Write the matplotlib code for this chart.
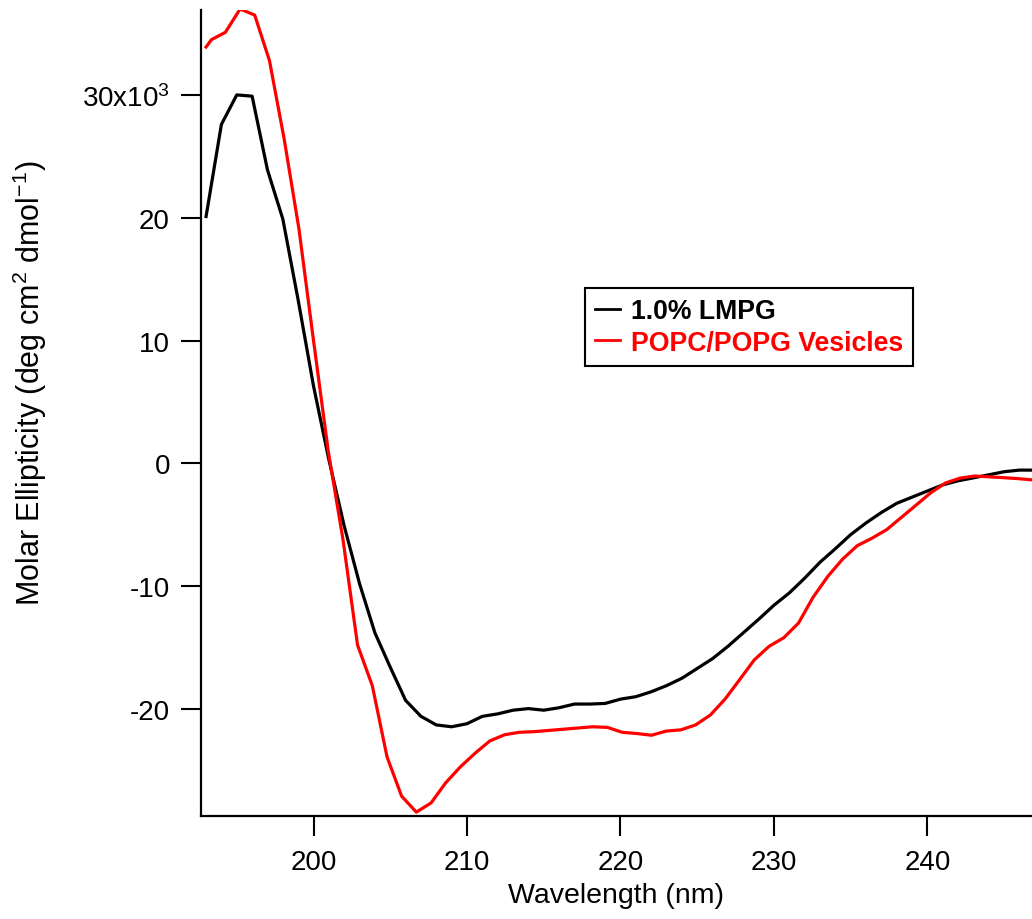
import matplotlib
matplotlib.use("Agg")
import matplotlib.pyplot as plt

# ---- data ----
lmpg_wavelength = [193, 194, 195, 196, 197, 198, 199, 200, 201, 202, 203, 204, 205, 206,
                   207, 208, 209, 210, 211, 212, 213, 214, 215, 216, 217, 218, 219, 220,
                   221, 222, 223, 224, 225, 226, 227, 228, 229, 230, 231, 232, 233, 234,
                   235, 236, 237, 238, 239, 240, 241, 242, 243, 244, 245, 246, 247]
lmpg_ellipticity = [20.1, 27.6, 30.0, 29.9, 23.9, 19.9, 13.3, 6.3, 0.3, -5.1, -9.8, -13.8,
                    -16.6, -19.3, -20.6, -21.3, -21.45, -21.2, -20.6, -20.4, -20.1, -19.97,
                    -20.1, -19.9, -19.6, -19.6, -19.55, -19.2, -19.0, -18.6, -18.1, -17.5,
                    -16.7, -15.9, -14.9, -13.8, -12.7, -11.55, -10.55, -9.35, -8.05, -6.95,
                    -5.8, -4.85, -4.0, -3.25, -2.75, -2.25, -1.75, -1.42, -1.18, -0.93,
                    -0.68, -0.55, -0.55]

vesicle_wavelength = [193.0, 193.35, 194.26, 195.22, 196.17, 197.13, 198.09, 199.05, 200.0,
                      200.96, 201.92, 202.87, 203.83, 204.79, 205.74, 206.7, 207.66, 208.62,
                      209.58, 210.53, 211.49, 212.45, 213.4, 214.36, 215.32, 216.28, 217.23,
                      218.19, 219.15, 220.11, 221.06, 222.02, 222.98, 223.94, 224.89, 225.85,
                      226.81, 227.77, 228.72, 229.68, 230.64, 231.6, 232.55, 233.51, 234.47,
                      235.43, 236.38, 237.34, 238.3, 239.26, 240.21, 241.17, 242.13, 243.09,
                      244.04, 245.0, 245.96, 246.92]
vesicle_ellipticity = [33.9, 34.5, 35.1, 37.0, 36.5, 32.8, 26.4, 19.1, 10.0, 1.0, -6.2, -14.8,
                       -18.1, -23.9, -27.1, -28.4, -27.65, -26.0, -24.7, -23.6, -22.6, -22.1,
                       -21.9, -21.85, -21.75, -21.65, -21.55, -21.45, -21.5, -21.9, -22.0,
                       -22.14, -21.8, -21.7, -21.3, -20.5, -19.2, -17.6, -16.0, -14.9, -14.2,
                       -13.0, -10.9, -9.2, -7.8, -6.7, -6.1, -5.4, -4.4, -3.4, -2.4, -1.6,
                       -1.2, -1.03, -1.1, -1.17, -1.25, -1.36]

series_labels = ["1.0% LMPG", "POPC/POPG Vesicles"]
series_colors = ["black", "red"]

x_ticks = [200, 210, 220, 230, 240]
y_ticks = [-20, -10, 0, 10, 20, 30]
y_tick_labels = ["-20", "-10", "0", "10", "20", r"30x10$^{3}$"]

# ---- style ----
plt.rcParams["font.family"] = ["Liberation Sans", "DejaVu Sans"]
plt.rcParams["mathtext.fontset"] = "custom"
plt.rcParams["mathtext.rm"] = "Liberation Sans"
plt.rcParams["mathtext.it"] = "Liberation Sans:italic"
plt.rcParams["mathtext.bf"] = "Liberation Sans:bold"

fig = plt.figure(figsize=(10.32, 9.2), dpi=100)
ax = fig.add_axes([201 / 1032, (920 - 817.3) / 920, (1032 - 201) / 1032, (817.3 - 10.7) / 920])

ax.plot(lmpg_wavelength, lmpg_ellipticity, color=series_colors[0], lw=2.3, label=series_labels[0])
ax.plot(vesicle_wavelength, vesicle_ellipticity, color=series_colors[1], lw=2.3, label=series_labels[1])

ax.set_xlim(192.67, 246.81)
ax.set_ylim(-28.74, 36.94)

ax.set_xticks(x_ticks)
ax.set_yticks(y_ticks)
ax.set_yticklabels(y_tick_labels)
ax.tick_params(axis="both", direction="out", length=14.4, width=1.5, labelsize=20, color="black")
ax.tick_params(axis="x", pad=9)
ax.tick_params(axis="y", pad=8)

for side in ("top", "right"):
    ax.spines[side].set_visible(False)
for side in ("left", "bottom"):
    ax.spines[side].set_linewidth(1.6)

ax.set_xlabel("Wavelength (nm)", fontsize=20.5, labelpad=5)
ax.set_ylabel(r"Molar Ellipticity (deg cm$^{2}$ dmol$^{-1}$)", fontsize=22)
ax.yaxis.set_label_coords(-0.183, 0.538)

leg = ax.legend(loc="upper left", bbox_to_anchor=(0.462, 0.6546), borderaxespad=0,
                frameon=True, fancybox=False, edgecolor="black", framealpha=1,
                prop={"weight": "bold", "size": 19.2}, handlelength=0.95, handletextpad=0.4,
                borderpad=0.38, labelspacing=0.2, labelcolor="linecolor")
leg.get_frame().set_linewidth(1.5)
for h in leg.get_lines():
    h.set_linewidth(2.0)

fig.savefig("out.png", dpi=100)
